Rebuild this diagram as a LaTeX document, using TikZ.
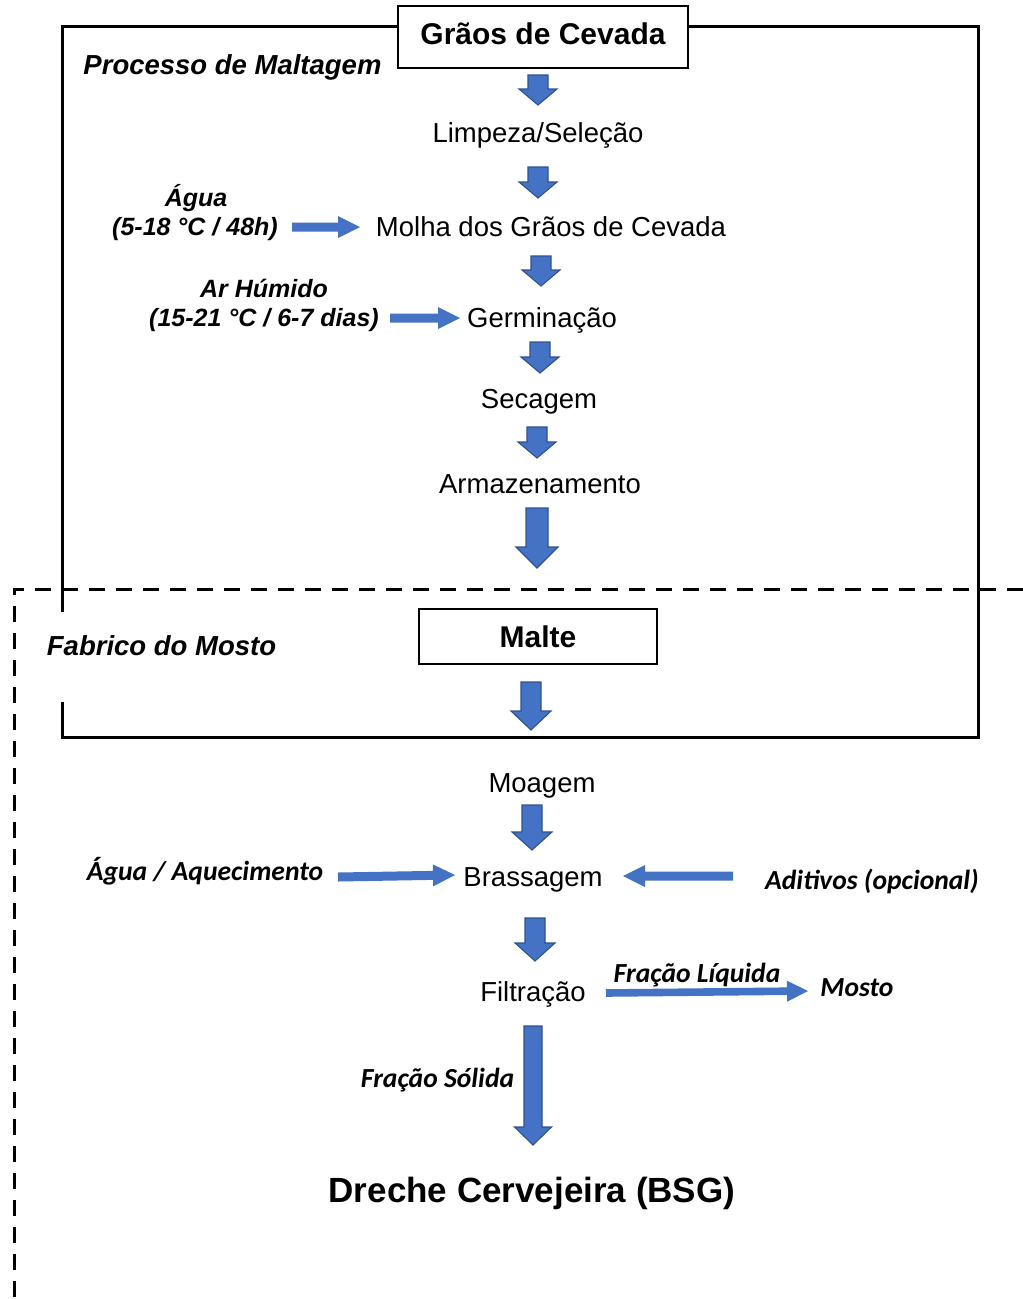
\documentclass[tikz,border=0pt]{standalone}
\usepackage{fontspec}
\setmainfont{Liberation Sans}
\newfontfamily\carl{Carlito}
\usetikzlibrary{calc}
\definecolor{arrblue}{HTML}{4472C4}
\definecolor{arredge}{HTML}{2F528F}
\tikzset{
  fatarr/.style={fill=arrblue, draw=arredge, line width=1.1pt, line join=miter},
  thinarr/.style={fill=arrblue, draw=none},
  steptxt/.style={anchor=base, inner sep=0pt, font=\fontsize{27.5}{33}\selectfont},
  condtxt/.style={anchor=base, inner sep=0pt, font=\fontsize{25}{29}\selectfont\bfseries\itshape},
  secttxt/.style={anchor=base, inner sep=0pt, font=\fontsize{27.5}{33}\selectfont\bfseries\itshape},
  carltxt/.style={anchor=base, inner sep=0pt, font=\carl\fontsize{27.6}{32}\selectfont\bfseries\itshape},
  boxtxt/.style={anchor=base, inner sep=0pt, font=\fontsize{30}{36}\selectfont\bfseries},
  framebox/.style={draw=black, line width=2pt, fill=white},
}
% #1 tail, #2 tip, #3 half shaft, #4 half head, #5 head length, #6 style
\newcommand\fatarrow[6]{%
  \path[#6] ($(#1)!#3!90:(#2)$)
    -- ($($(#2)!#5!(#1)$)!#3!-90:(#1)$)
    -- ($($(#2)!#5!(#1)$)!#4!-90:(#1)$)
    -- (#2)
    -- ($($(#2)!#5!(#1)$)!#4!90:(#1)$)
    -- ($($(#2)!#5!(#1)$)!#3!90:(#1)$)
    -- ($(#1)!#3!-90:(#2)$) -- cycle;}
\begin{document}
\begin{tikzpicture}[x=1pt,y=-1pt]
\useasboundingbox[fill=white] (0,0) rectangle (1023,1299);
% outer solid frame
\draw[line width=3pt, line join=miter] (62,612) -- (62,26) -- (978,26) -- (978,737) -- (62,737) -- (62,702);
% dashed frame
\draw[line width=3pt, dash pattern=on 16pt off 11pt] (1023,589) -- (14,589) -- (14,1299);
% boxes
\path[framebox] (398,6) rectangle (688,68);
\node[boxtxt] (graos) at (543,44) {Grãos de Cevada};
\path[framebox] (419,609) rectangle (657,664);
\node[boxtxt] (malte) at (538,647) {Malte};
% section labels
\node[secttxt] (proc) at (232.5,74) {Processo de Maltagem};
\node[secttxt] (fabr) at (161.5,655) {Fabrico do Mosto};
% steps
\node[steptxt] (limp) at (538,142) {Limpeza/Seleção};
\node[steptxt] (molha) at (551,236) {Molha dos Grãos de Cevada};
\node[steptxt] (germ) at (542,327) {Germinação};
\node[steptxt] (seca) at (539,408) {Secagem};
\node[steptxt] (arma) at (540,493) {Armazenamento};
\node[steptxt] (moag) at (542,792) {Moagem};
\node[steptxt] (brass) at (533,886) {Brassagem};
\node[steptxt] (filt) at (533,1001) {Filtração};
\node[anchor=base, inner sep=0pt, font=\fontsize{35}{42}\selectfont\bfseries] (bsg) at (532,1202) {Dreche Cervejeira (BSG)};
% conditions
\node[condtxt] (agua1) at (196,206) {Água};
\node[condtxt] (agua2) at (195,235) {(5-18 °C / 48h)};
\node[condtxt] (ar1) at (264,297) {Ar Húmido};
\node[condtxt] (ar2) at (264,326) {(15-21 °C / 6-7 dias)};
\node[carltxt] (aquec) at (205,880) {Água / Aquecimento};
\node[carltxt] (adit) at (872,889) {Aditivos (opcional)};
\node[carltxt] (liq) at (697,982) {Fração Líquida};
\node[carltxt] (mosto) at (857,996) {Mosto};
\node[carltxt] (sol) at (437.5,1087) {Fração Sólida};
% arrow end points
\coordinate (a1s) at (538,75);  \coordinate (a1e) at (538,105);
\coordinate (a2s) at (538,167); \coordinate (a2e) at (538,198);
\coordinate (a3s) at (541,256); \coordinate (a3e) at (541,286);
\coordinate (a4s) at (540,342); \coordinate (a4e) at (540,373);
\coordinate (a5s) at (537,427); \coordinate (a5e) at (537,458);
\coordinate (a6s) at (537,508); \coordinate (a6e) at (537,568);
\coordinate (a7s) at (531,682); \coordinate (a7e) at (531,730);
\coordinate (a8s) at (532,805); \coordinate (a8e) at (532,850);
\coordinate (a9s) at (535,918); \coordinate (a9e) at (535,961);
\coordinate (a10s) at (533,1026); \coordinate (a10e) at (533,1145);
\coordinate (h1s) at (292,227); \coordinate (h1e) at (360,227);
\coordinate (h2s) at (390,318); \coordinate (h2e) at (460,318);
\coordinate (h3s) at (338,877); \coordinate (h3e) at (455,875);
\coordinate (h4s) at (733,876); \coordinate (h4e) at (623,876);
\coordinate (h5s) at (606,993); \coordinate (h5e) at (808,991);
% block arrows
\fatarrow{a1s}{a1e}{10pt}{19pt}{16pt}{fatarr}
\fatarrow{a2s}{a2e}{10pt}{19pt}{16pt}{fatarr}
\fatarrow{a3s}{a3e}{10pt}{19pt}{16pt}{fatarr}
\fatarrow{a4s}{a4e}{10pt}{19pt}{16pt}{fatarr}
\fatarrow{a5s}{a5e}{10pt}{19pt}{16pt}{fatarr}
\fatarrow{a6s}{a6e}{11pt}{21pt}{21pt}{fatarr}
\fatarrow{a7s}{a7e}{10pt}{20pt}{19pt}{fatarr}
\fatarrow{a8s}{a8e}{10pt}{20pt}{18pt}{fatarr}
\fatarrow{a9s}{a9e}{10pt}{20pt}{18pt}{fatarr}
\fatarrow{a10s}{a10e}{9pt}{18.5pt}{18pt}{fatarr}
% thin arrows
\fatarrow{h1s}{h1e}{4.5pt}{11pt}{22pt}{thinarr}
\fatarrow{h2s}{h2e}{4.5pt}{11pt}{22pt}{thinarr}
\fatarrow{h3s}{h3e}{4.5pt}{11pt}{22pt}{thinarr}
\fatarrow{h4s}{h4e}{4.5pt}{11pt}{22pt}{thinarr}
\fatarrow{h5s}{h5e}{3.8pt}{10.5pt}{21pt}{thinarr}
\end{tikzpicture}
\end{document}
